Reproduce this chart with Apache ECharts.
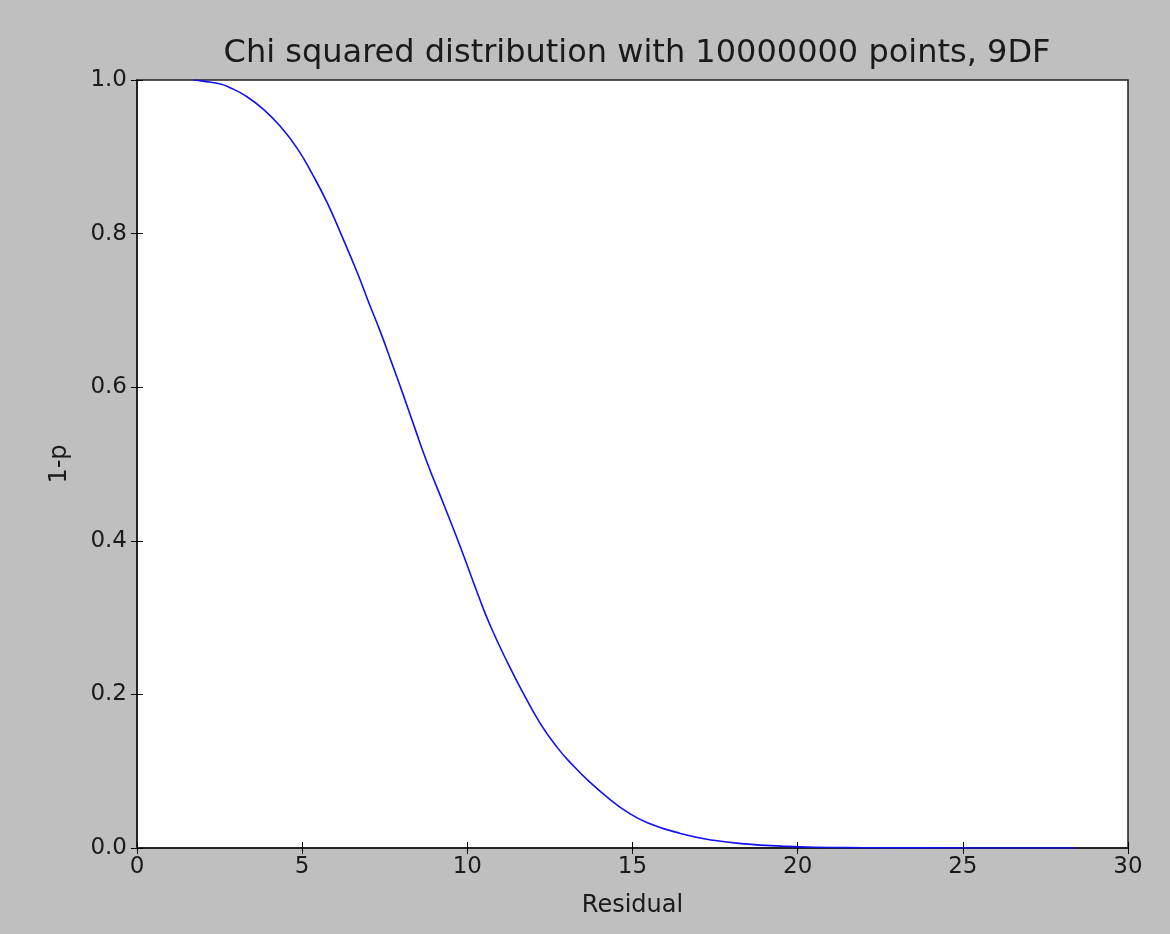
<!DOCTYPE html>
<html>
<head>
<meta charset="utf-8">
<script src="https://cdn.jsdelivr.net/npm/echarts@6/dist/echarts.min.js"></script>
<style>
html,body{margin:0;padding:0;background:#bfbfbf;}
#chart{width:1170px;height:934px;}
</style>
</head>
<body>
<div id="chart"></div>
<script>
const titleText = 'Chi squared distribution with 10000000 points, 9DF';
const xName = 'Residual';
const yName = '1-p';
const residual = [1.7, 2.0, 2.5, 2.82, 3.3, 3.82, 4.35, 4.85, 5.3, 5.76, 6.2, 6.67, 7.0, 7.36, 7.7, 8.06, 8.4, 8.79, 9.3, 9.79, 10.33, 10.7, 11.21, 11.7, 12.21, 12.7, 13.21, 13.7, 14.24, 14.8, 15.45, 16.45, 17.45, 18.5, 19.5, 20.5, 22, 24, 26, 28.4];
const oneMinusP = [1.0, 0.9985, 0.995, 0.990, 0.979, 0.962, 0.939, 0.911, 0.878, 0.840, 0.797, 0.749, 0.712, 0.673, 0.633, 0.590, 0.548, 0.501, 0.446, 0.392, 0.329, 0.289, 0.242, 0.201, 0.162, 0.132, 0.107, 0.086, 0.066, 0.048, 0.033, 0.019, 0.010, 0.005, 0.0025, 0.001, 0.0004, 0.0001, 0.00003, 0.00001];
const xTicks = [0, 5, 10, 15, 20, 25, 30];
const yTicks = [0.0, 0.2, 0.4, 0.6, 0.8, 1.0];

const points = residual.map((x, i) => [x, oneMinusP[i]]);
const font = 'DejaVu Sans';
const chart = echarts.init(document.getElementById('chart'), null, {renderer: 'canvas'});
const tickStyle = {show: true, inside: true, length: 6, lineStyle: {color: '#000', width: 1}};
chart.setOption({
  backgroundColor: '#bfbfbf',
  animation: false,
  title: {
    text: titleText, left: 632, top: 33, textAlign: 'center',
    textStyle: {fontFamily: font, fontSize: 32, fontWeight: 'normal', color: '#1a1a1a'}
  },
  grid: {left: 137, right: 42, top: 80, bottom: 86, show: true, backgroundColor: '#ffffff', borderColor: '#222', borderWidth: 1.5},
  xAxis: [{
    type: 'value', min: 0, max: 30, interval: 5, position: 'bottom',
    name: xName, nameLocation: 'middle', nameGap: 46,
    nameTextStyle: {fontFamily: font, fontSize: 24, color: '#1a1a1a'},
    axisLine: {show: true, lineStyle: {color: '#222', width: 1.5}},
    axisTick: tickStyle,
    axisLabel: {fontFamily: font, fontSize: 23, color: '#1a1a1a', margin: 8, formatter: v => xTicks.includes(v) ? String(v) : ''},
    splitLine: {show: false}
  }, {
    type: 'value', min: 0, max: 30, interval: 5, position: 'top',
    axisLine: {show: true, lineStyle: {color: '#222', width: 1.5}},
    axisTick: tickStyle, axisLabel: {show: false}, splitLine: {show: false}
  }],
  yAxis: [{
    type: 'value', min: 0, max: 1, interval: 0.2, position: 'left',
    name: yName, nameLocation: 'middle', nameGap: 65, nameRotate: 90,
    nameTextStyle: {fontFamily: font, fontSize: 24, color: '#1a1a1a'},
    axisLine: {show: true, lineStyle: {color: '#222', width: 1.5}},
    axisTick: tickStyle,
    axisLabel: {fontFamily: font, fontSize: 23, color: '#1a1a1a', margin: 10, formatter: v => yTicks.some(t => Math.abs(t - v) < 1e-9) ? v.toFixed(1) : ''},
    splitLine: {show: false}
  }, {
    type: 'value', min: 0, max: 1, interval: 0.2, position: 'right',
    axisLine: {show: true, lineStyle: {color: '#222', width: 1.5}},
    axisTick: tickStyle, axisLabel: {show: false}, splitLine: {show: false}
  }],
  series: [{
    type: 'line', data: points, xAxisIndex: 0, yAxisIndex: 0,
    showSymbol: false, smooth: 0.5, clip: true,
    lineStyle: {color: '#1010f0', width: 1.6}
  }]
});
</script>
</body>
</html>
